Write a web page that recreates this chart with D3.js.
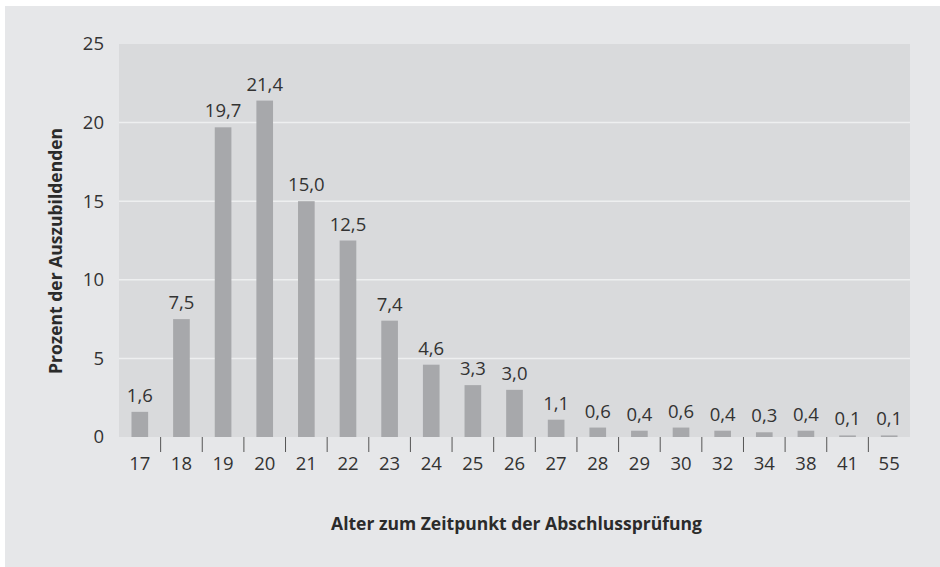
<!DOCTYPE html>
<html>
<head>
<meta charset="utf-8">
<script src="https://cdn.jsdelivr.net/npm/d3@7"></script>
<style>
	body { margin: 0; background: #ffffff; }
	svg { display: block; font-family: 'Open Sans', 'Noto Sans', sans-serif; }
</style>
</head>
<body>
<svg id="chart" width="940" height="567"></svg>
<script>
// Alter der Auszubildenden bei der Abschlussprüfung
var ages = ['17','18','19','20','21','22','23','24','25','26','27','28','29','30','32','34','38','41','55'];
var percent = [1.6, 7.5, 19.7, 21.4, 15.0, 12.5, 7.4, 4.6, 3.3, 3.0, 1.1, 0.6, 0.4, 0.6, 0.4, 0.3, 0.4, 0.1, 0.1];
var yTicks = [0, 5, 10, 15, 20, 25];

var svg = d3.select('#chart');
var margin = {top: 44, left: 119, right: 30, bottom: 130};
var width = 940 - margin.left - margin.right;
var height = 567 - margin.top - margin.bottom;

//Outer panel
svg.append('rect')
	.attr('x', 5)
	.attr('y', 6)
	.attr('width', 935)
	.attr('height', 561)
	.attr('fill', '#e6e7e9');

var g = svg.append('g')
	.attr('transform', 'translate(' + margin.left + ',' + margin.top + ')');

var x = d3.scaleBand()
	.domain(ages)
	.range([0, width])
	.padding(0);

var y = d3.scaleLinear()
	.domain([0, 25])
	.range([height, 0]);

//Plot background
g.append('rect')
	.attr('width', width)
	.attr('height', height)
	.attr('fill', '#d9dadc');

//Gridlines
g.selectAll('.grid')
	.data(yTicks.filter(d => d > 0 && d < 25))
	.enter()
	.append('line')
	.classed('grid', true)
	.attr('x1', 0)
	.attr('x2', width)
	.attr('y1', d => y(d))
	.attr('y2', d => y(d))
	.attr('stroke', '#eeeff0')
	.attr('stroke-width', 1.5);

//Bars
var barWidth = x.bandwidth() * 0.4;
g.selectAll('.bar')
	.data(percent)
	.enter()
	.append('rect')
	.classed('bar', true)
	.attr('x', (d, i) => x(ages[i]) + (x.bandwidth() - barWidth) / 2)
	.attr('y', d => y(d))
	.attr('width', barWidth)
	.attr('height', d => height - y(d))
	.attr('fill', '#a7a8ab');

//Value labels
g.selectAll('.val')
	.data(percent)
	.enter()
	.append('text')
	.classed('val', true)
	.attr('x', (d, i) => x(ages[i]) + x.bandwidth() / 2)
	.attr('y', d => y(d) - 10)
	.attr('text-anchor', 'middle')
	.style('font-size', '18.5px')
	.attr('fill', '#333')
	.text(d => d.toFixed(1).replace('.', ','));

//X axis: ticks between categories
var xAxis = g.append('g')
	.attr('transform', 'translate(0,' + height + ')');

xAxis.selectAll('.sep')
	.data(ages.slice(1))
	.enter()
	.append('line')
	.attr('x1', d => x(d))
	.attr('x2', d => x(d))
	.attr('y1', 0)
	.attr('y2', 15)
	.attr('stroke', '#555')
	.attr('stroke-width', 1);

xAxis.selectAll('.xlab')
	.data(ages)
	.enter()
	.append('text')
	.attr('x', d => x(d) + x.bandwidth() / 2)
	.attr('y', 33)
	.attr('text-anchor', 'middle')
	.style('font-size', '18.5px')
	.attr('fill', '#333')
	.text(d => d);

//Y axis labels
g.selectAll('.ylab')
	.data(yTicks)
	.enter()
	.append('text')
	.attr('x', -15)
	.attr('y', d => y(d))
	.attr('dy', '0.35em')
	.attr('text-anchor', 'end')
	.style('font-size', '18.5px')
	.attr('fill', '#333')
	.text(d => d);

//Axis titles
svg.append('text')
	.attr('x', margin.left + width / 2 + 2)
	.attr('y', 530)
	.attr('text-anchor', 'middle')
	.style('font-size', '17.5px')
	.style('font-weight', 'bold')
	.attr('fill', '#2b2b2b')
	.text('Alter zum Zeitpunkt der Abschlussprüfung');

svg.append('text')
	.attr('transform', 'translate(62,251) rotate(-90)')
	.attr('text-anchor', 'middle')
	.style('font-size', '17.5px')
	.style('font-weight', 'bold')
	.attr('fill', '#2b2b2b')
	.text('Prozent der Auszubildenden');
</script>
</body>
</html>
